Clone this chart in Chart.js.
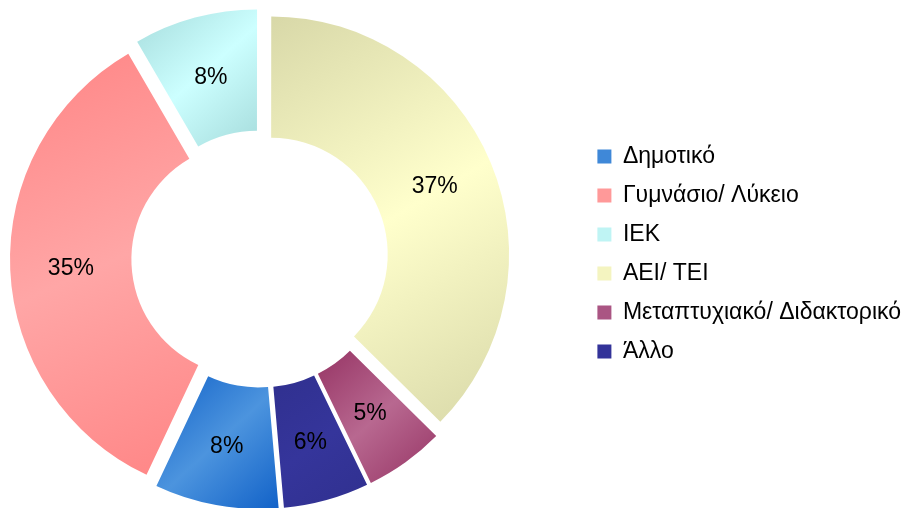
<!DOCTYPE html>
<html>
<head>
<meta charset="utf-8">
<script src="https://cdn.jsdelivr.net/npm/chart.js@4.4.1/dist/chart.umd.min.js"></script>
<style>
  html, body { margin: 0; padding: 0; background: #fff; }
  #wrap { width: 901px; height: 508px; }
</style>
</head>
<body>
<div id="wrap"><canvas id="eduChart" width="901" height="508"></canvas></div>
<script>
// categories and shares (percent)
const categories = ["Δημοτικό", "Γυμνάσιο/ Λύκειο", "ΙΕΚ", "ΑΕΙ/ ΤΕΙ", "Μεταπτυχιακό/ Διδακτορικό", "Άλλο"];
const shares = [8.4, 34.6, 8.4, 37.4, 5.4, 5.8];

// colours: legend base, gradient light centre, gradient dark ends
const baseColors  = ["#3f88d8", "#ff9999", "#bff4f4", "#f4f4c0", "#aa5583", "#333399"];
const lightColors = ["#4c94de", "#ffa6a6", "#ccffff", "#ffffcc", "#b86890", "#35359b"];
const darkColors  = ["#1262c8", "#ff8585", "#a6dcdc", "#d8d8a8", "#963464", "#30308f"];

const explode = 12;
const pieCenterX = 260;

const total = shares.reduce((a, b) => a + b, 0);

// keep the ring on the left and the legend tight to the right edge
const placePlugin = {
  id: "place",
  afterLayout(chart) {
    const area = chart.chartArea;
    area.left = 2 * pieCenterX - area.right;
    area.width = area.right - area.left;
    const lg = chart.legend;
    lg.left += 10; lg.right += 10;
    lg.top -= 5; lg.bottom -= 5;
  }
};

// push every slice outwards along its middle angle
const explodePlugin = {
  id: "explode",
  afterUpdate(chart) {
    chart.getDatasetMeta(0).data.forEach(arc => {
      const mid = (arc.startAngle + arc.endAngle) / 2;
      arc.x += Math.cos(mid) * explode;
      arc.y += Math.sin(mid) * explode;
    });
  }
};

// diagonal dark-light-dark fill for each slice
const shadePlugin = {
  id: "shade",
  beforeDatasetsDraw(chart) {
    const ctx = chart.ctx;
    chart.getDatasetMeta(0).data.forEach((arc, i) => {
      let minX = Infinity, minY = Infinity, maxX = -Infinity, maxY = -Infinity;
      for (let k = 0; k <= 30; k++) {
        const a = arc.startAngle + (arc.endAngle - arc.startAngle) * k / 30;
        [arc.innerRadius, arc.outerRadius].forEach(r => {
          const px = arc.x + Math.cos(a) * r;
          const py = arc.y + Math.sin(a) * r;
          minX = Math.min(minX, px); maxX = Math.max(maxX, px);
          minY = Math.min(minY, py); maxY = Math.max(maxY, py);
        });
      }
      const g = ctx.createLinearGradient(minX, minY, maxX, maxY);
      g.addColorStop(0, darkColors[i]);
      g.addColorStop(0.5, lightColors[i]);
      g.addColorStop(1, darkColors[i]);
      arc.options = Object.assign({}, arc.options, { backgroundColor: g });
    });
  }
};

// percentage text inside each slice
const percentPlugin = {
  id: "percent",
  afterDatasetsDraw(chart) {
    const ctx = chart.ctx;
    ctx.save();
    ctx.font = "23px 'Liberation Sans', Arial, sans-serif";
    ctx.fillStyle = "#000";
    ctx.textAlign = "center";
    ctx.textBaseline = "middle";
    chart.getDatasetMeta(0).data.forEach((arc, i) => {
      const mid = (arc.startAngle + arc.endAngle) / 2;
      const r = (arc.innerRadius + arc.outerRadius) / 2;
      ctx.fillText(Math.round(shares[i] / total * 100) + "%",
        arc.x + Math.cos(mid) * r, arc.y + Math.sin(mid) * r + 1);
    });
    ctx.restore();
  }
};

const ctx = document.getElementById("eduChart");

const eduChart = new Chart(ctx, {
  type: "doughnut",
  data: {
    labels: categories,
    datasets: [{
      data: shares,
      backgroundColor: baseColors,
      borderWidth: 0
    }]
  },
  options: {
    responsive: false,
    animation: false,
    events: [],
    cutout: "49%",
    rotation: 175,
    layout: {
      padding: { left: 0, right: 0, top: 21, bottom: 11 }
    },
    plugins: {
      legend: {
        position: "right",
        labels: {
          boxWidth: 14,
          boxHeight: 14,
          padding: 16,
          color: "#000",
          font: { family: "'Liberation Sans', Arial, sans-serif", size: 23 }
        }
      },
      tooltip: { enabled: false }
    }
  },
  plugins: [placePlugin, explodePlugin, shadePlugin, percentPlugin]
});
</script>
</body>
</html>
